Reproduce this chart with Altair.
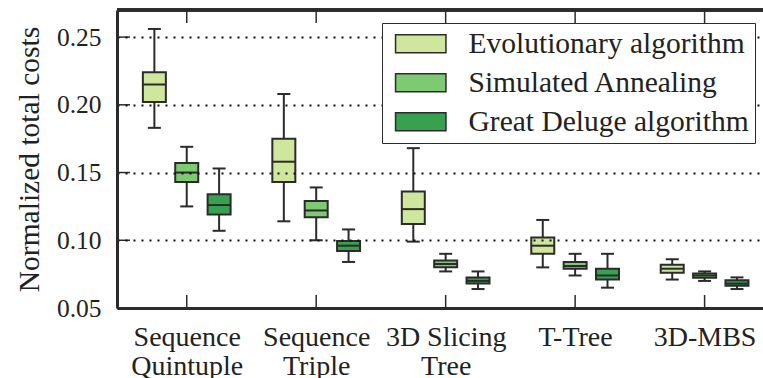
import json
import altair as alt
import pandas as pd

# Floorplanning representations (x axis), label lines per category
categories = ["Sequence Quintuple", "Sequence Triple", "3D Slicing Tree", "T-Tree", "3D-MBS"]
category_lines = [["Sequence", "Quintuple"], ["Sequence", "Triple"], ["3D Slicing", "Tree"], ["T-Tree"], ["3D-MBS"]]

algorithms = ["Evolutionary algorithm", "Simulated Annealing", "Great Deluge algorithm"]
colors = ["#cfe69d", "#7dca73", "#36a24f"]
offsets = [-0.25, 0.0, 0.25]

# Box statistics (whisker low, Q1, median, Q3, whisker high) per algorithm, per category
ea_lo = [0.183, 0.114, 0.099, 0.080, 0.071]
ea_q1 = [0.202, 0.143, 0.112, 0.090, 0.076]
ea_med = [0.215, 0.158, 0.123, 0.096, 0.079]
ea_q3 = [0.224, 0.175, 0.136, 0.102, 0.082]
ea_hi = [0.256, 0.208, 0.168, 0.115, 0.086]

sa_lo = [0.125, 0.100, 0.077, 0.074, 0.070]
sa_q1 = [0.143, 0.117, 0.080, 0.079, 0.0724]
sa_med = [0.150, 0.122, 0.0825, 0.081, 0.074]
sa_q3 = [0.157, 0.129, 0.085, 0.084, 0.0754]
sa_hi = [0.169, 0.139, 0.090, 0.090, 0.077]

gd_lo = [0.107, 0.084, 0.064, 0.065, 0.064]
gd_q1 = [0.119, 0.092, 0.068, 0.071, 0.0665]
gd_med = [0.126, 0.096, 0.070, 0.074, 0.068]
gd_q3 = [0.134, 0.0995, 0.0726, 0.079, 0.0704]
gd_hi = [0.153, 0.108, 0.077, 0.090, 0.0726]

y_ticks = [0.05, 0.10, 0.15, 0.20, 0.25]

stats = {
    algorithms[0]: (ea_lo, ea_q1, ea_med, ea_q3, ea_hi),
    algorithms[1]: (sa_lo, sa_q1, sa_med, sa_q3, sa_hi),
    algorithms[2]: (gd_lo, gd_q1, gd_med, gd_q3, gd_hi),
}

rows = []
for a_i, algo in enumerate(algorithms):
    lo, q1, med, q3, hi = stats[algo]
    for c_i, cat in enumerate(categories):
        rows.append({
            "category": cat, "algo": algo, "pos": c_i + offsets[a_i],
            "lo": lo[c_i], "q1": q1[c_i], "med": med[c_i], "q3": q3[c_i], "hi": hi[c_i],
        })
df = pd.DataFrame(rows)
cat_df = pd.DataFrame({"pos": list(range(len(categories)))})
ytick_df = pd.DataFrame({"v": y_ticks})

W, H = 646, 298
DARK = "#2b2b2b"
TEXT = "#222222"
FONT = "Liberation Serif"

x_scale = alt.Scale(domain=[-0.5, 4.4125], nice=False, zero=False)
y_scale = alt.Scale(domain=[0.05, 0.27], nice=False, zero=False)

x_axis = alt.Axis(
    values=list(range(len(categories))),
    labelExpr=json.dumps(category_lines) + "[datum.value]",
    ticks=False, grid=False, title=None,
    labelFont=FONT, labelFontSize=28, labelColor=TEXT, labelLineHeight=29.5,
    labelPadding=15, labelBaseline="top",
    domainColor=DARK, domainWidth=3, zindex=1,
)
y_axis = alt.Axis(
    values=y_ticks, format=".2f", ticks=False,
    title="Normalized total costs", titleFont=FONT, titleFontSize=29.5,
    titleFontWeight="normal", titleColor=TEXT, titlePadding=12,
    labelFont=FONT, labelFontSize=25.5, labelColor=TEXT, labelPadding=16,
    domainColor=DARK, domainWidth=3,
    grid=True, gridColor="#111111", gridDash=[2, 6], gridWidth=2, zindex=1,
)


def X(field="pos"):
    return alt.X(f"{field}:Q", scale=x_scale, axis=x_axis, title=None)


def Y(field):
    return alt.Y(f"{field}:Q", scale=y_scale, axis=y_axis, title="Normalized total costs")


base = alt.Chart(df)

whiskers = base.mark_rule(color=DARK, strokeWidth=2).encode(
    x=X(), y=Y("lo"), y2="hi:Q"
)
cap_lo = base.mark_tick(orient="horizontal", size=13, thickness=2, color=DARK, opacity=1).encode(
    x=X(), y=Y("lo")
)
cap_hi = base.mark_tick(orient="horizontal", size=13, thickness=2, color=DARK, opacity=1).encode(
    x=X(), y=Y("hi")
)
boxes = base.mark_bar(width=23, stroke=DARK, strokeWidth=2, opacity=1).encode(
    x=X(),
    y=Y("q1"),
    y2="q3:Q",
    fill=alt.Fill(
        "algo:N",
        scale=alt.Scale(domain=algorithms, range=colors),
        legend=alt.Legend(
            title=None, orient="none", legendX=265, legendY=13,
            symbolType="M-2.8,-1L2.8,-1L2.8,1L-2.8,1Z", symbolSize=324,
            symbolStrokeColor=DARK, symbolStrokeWidth=1.5, symbolOpacity=1,
            symbolOffset=18, labelOffset=33,
            labelFont=FONT, labelFontSize=29.5, labelColor=TEXT, labelLimit=400,
            padding=6, rowPadding=8,
            strokeColor=DARK, fillColor="white", cornerRadius=0,
            zindex=2,
        ),
    ),
)
medians = base.mark_tick(orient="horizontal", size=23, thickness=2, color=DARK, opacity=1).encode(
    x=X(), y=Y("med")
)

# inward tick marks on the frame
y_inner = alt.Chart(ytick_df).mark_rule(color=DARK, strokeWidth=1.5).encode(
    y=Y("v"), x=alt.value(0), x2=alt.value(13)
)
x_inner_bottom = alt.Chart(cat_df).mark_rule(color=DARK, strokeWidth=1.5).encode(
    x=X(), y=alt.value(H), y2=alt.value(H - 13)
)
x_inner_top = alt.Chart(cat_df).mark_rule(color=DARK, strokeWidth=1.5).encode(
    x=X(), y=alt.value(0), y2=alt.value(13)
)
top_frame = alt.Chart(cat_df).mark_rule(color=DARK, strokeWidth=3).encode(
    x=alt.value(0), x2=alt.value(W), y=alt.value(0)
)

chart = alt.layer(
    whiskers, cap_lo, cap_hi, boxes, medians,
    y_inner, x_inner_bottom, x_inner_top, top_frame,
).properties(
    width=W, height=H,
    autosize=alt.AutoSizeParams(type="none"),
    padding={"left": 117, "top": 10, "right": 0, "bottom": 70},
).configure_view(stroke=None).configure_legend(strokeWidth=3).configure(background="white")

chart.save("out.html", embed_options={"renderer": "svg", "actions": False})
